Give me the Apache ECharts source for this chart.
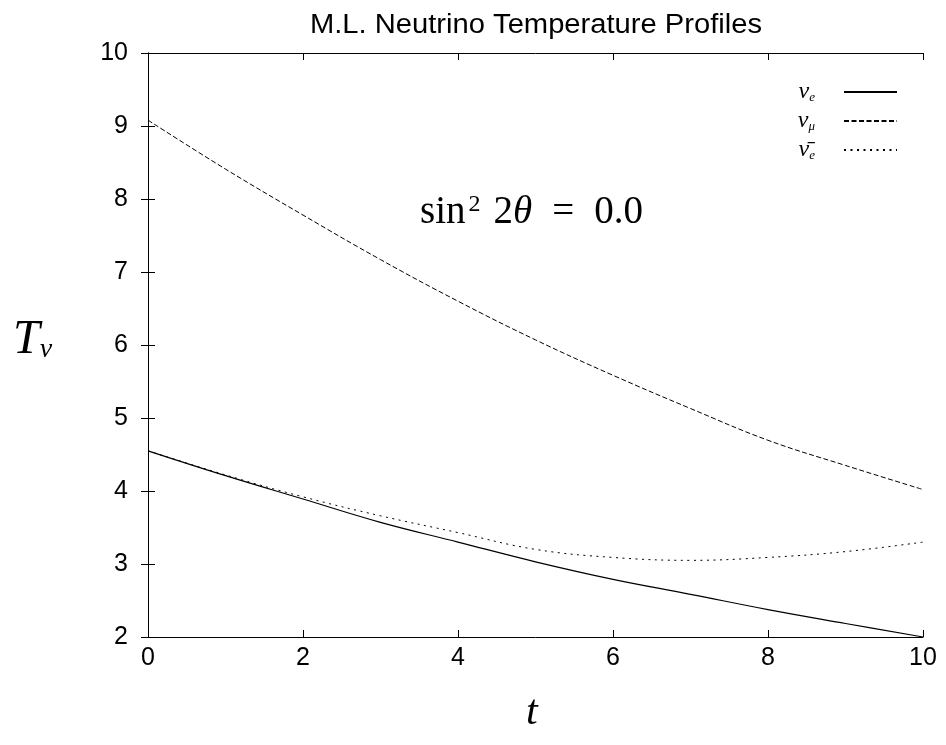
<!DOCTYPE html>
<html>
<head>
<meta charset="utf-8">
<script src="https://cdn.jsdelivr.net/npm/echarts@6/dist/echarts.min.js"></script>
<style>html,body{margin:0;padding:0;background:#fff}#c{width:946px;height:745px}</style>
</head>
<body>
<div id="c"></div>
<script>
var tValues = [0, 1, 2, 3, 4, 5, 6, 7, 8, 9, 10];
var nuE    = [4.55, 4.21, 3.89, 3.57, 3.30, 3.03, 2.79, 2.585, 2.375, 2.185, 2.0];
var nuMu   = [9.08, 8.41, 7.78, 7.17, 6.60, 6.07, 5.585, 5.13, 4.695, 4.35, 4.02];
var nuEbar = [4.55, 4.22, 3.92, 3.66, 3.43, 3.20, 3.09, 3.05, 3.09, 3.17, 3.30];
var seriesNames = ['nu_e', 'nu_mu', 'nubar_e'];
var titleText = 'M.L. Neutrino Temperature Profiles';

function pairs(ys) { return tValues.map(function (t, i) { return [t, ys[i]]; }); }

var chart = echarts.init(document.getElementById('c'), null, { renderer: 'canvas' });
var axisLine = { show: true, lineStyle: { color: '#000', width: 1 } };
var tick = { show: true, inside: true, length: 7, lineStyle: { color: '#000', width: 1 } };
var lbl = { fontFamily: 'Liberation Sans', fontSize: 25, color: '#000' };
var legendLabels = {
  nu_e: '{v|ν}{s|e}',
  nu_mu: '{v|ν}{s|μ}',
  nubar_e: '{v|ν̄}{s|e}'
};
var option = {
  animation: false,
  backgroundColor: '#fff',
  grid: { left: 148, right: 23, top: 53, bottom: 108 },
  legend: {
    orient: 'vertical', right: 43, top: 75, align: 'right',
    itemWidth: 53, itemHeight: 14, itemGap: 5,
    data: seriesNames,
    itemStyle: { opacity: 0 },
    formatter: function (n) { return legendLabels[n]; },
    textStyle: {
      padding: [0, 24, 0, 0],
      rich: {
        v: { fontFamily: 'Liberation Serif', fontStyle: 'italic', fontSize: 24, color: '#000' },
        s: { fontFamily: 'Liberation Serif', fontStyle: 'italic', fontSize: 13, color: '#000', verticalAlign: 'bottom' }
      }
    }
  },
  xAxis: [
    { type: 'value', min: 0, max: 10, interval: 2, position: 'bottom',
      axisLine: axisLine, axisTick: tick, splitLine: { show: false },
      axisLabel: Object.assign({ margin: 9 }, lbl) },
    { type: 'value', min: 0, max: 10, interval: 2, position: 'top',
      axisLine: axisLine, axisTick: tick, splitLine: { show: false }, axisLabel: { show: false } }
  ],
  yAxis: [
    { type: 'value', min: 2, max: 10, interval: 1, position: 'left',
      axisLine: axisLine, axisTick: tick, splitLine: { show: false },
      axisLabel: Object.assign({ margin: 20 }, lbl) },
    { type: 'value', min: 2, max: 10, interval: 1, position: 'right',
      axisLine: axisLine, axisTick: tick, splitLine: { show: false }, axisLabel: { show: false } }
  ],
  series: [
    { name: seriesNames[0], type: 'line', data: pairs(nuE), smooth: 0.4, symbol: 'none',
      lineStyle: { color: '#000', width: 1.2, type: 'solid' }, itemStyle: { color: '#000' } },
    { name: seriesNames[1], type: 'line', data: pairs(nuMu), smooth: 0.4, symbol: 'none',
      lineStyle: { color: '#000', width: 1, type: [5, 2.5] }, itemStyle: { color: '#000' } },
    { name: seriesNames[2], type: 'line', data: pairs(nuEbar), smooth: 0.4, symbol: 'none',
      lineStyle: { color: '#000', width: 1, type: [2, 4.5] }, itemStyle: { color: '#000' } }
  ],
  graphic: [
    { type: 'text', x: 536, y: 12, scaleX: 1.08, style: {
        text: titleText, align: 'center', verticalAlign: 'top',
        fontFamily: 'Liberation Sans', fontSize: 27, fill: '#000' } },
    { type: 'text', left: 13, top: 316, style: {
        text: '{T|T}{n|ν}',
        rich: {
          T: { fontFamily: 'Liberation Serif', fontStyle: 'italic', fontSize: 48, fill: '#000' },
          n: { fontFamily: 'Liberation Serif', fontStyle: 'italic', fontSize: 28, fill: '#000', verticalAlign: 'bottom' }
        } } },
    { type: 'text', left: 526, top: 692, style: {
        text: 't', fontFamily: 'Liberation Serif', fontStyle: 'italic', fontSize: 42, fill: '#000' } },
    { type: 'text', left: 420, top: 193, style: {
        text: '{r|sin}{p|2}{g|2}{i|θ}{e|=}{r|0.0}',
        rich: {
          r: { fontFamily: 'Liberation Serif', fontSize: 39, fill: '#000' },
          g: { fontFamily: 'Liberation Serif', fontSize: 39, fill: '#000', padding: [0, 0, 0, 13] },
          i: { fontFamily: 'Liberation Serif', fontStyle: 'italic', fontSize: 39, fill: '#000' },
          e: { fontFamily: 'Liberation Serif', fontSize: 39, fill: '#000', padding: [0, 20, 0, 20] },
          p: { fontFamily: 'Liberation Serif', fontSize: 24, fill: '#000', verticalAlign: 'top', padding: [0, 0, 0, 3] }
        } } }
  ]
};
chart.setOption(option);
</script>
</body>
</html>
